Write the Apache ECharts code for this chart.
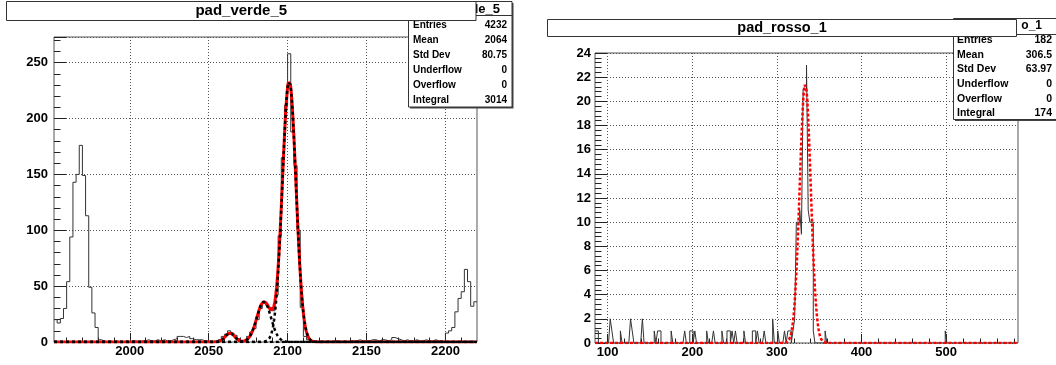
<!DOCTYPE html>
<html>
<head>
<meta charset="utf-8">
<script src="https://cdn.jsdelivr.net/npm/echarts@6/dist/echarts.min.js"></script>
<style>
  html, body { margin: 0; padding: 0; background: #fff; }
  #chart { width: 1056px; height: 365px; }
</style>
</head>
<body>
<div id="chart"></div>
<script>
// ---------- pad_verde_5 : histogram with 2-unit bins ----------
const verdeBinLo = 1952;
const verdeBinWidth = 2;
const verdeCounts = [
  20, 17, 21, 30, 54, 94, 143, 150, 176, 149,
  113, 49, 26, 13, 2, 1, 0, 1, 0, 1,
  0, 0, 1, 0, 1, 1, 0, 1, 1, 2,
  1, 1, 2, 1, 2, 1, 1, 2, 3, 5,
  5, 4, 5, 3, 2, 2, 2, 1, 1, 0,
  1, 0, 2, 5, 7, 10, 8, 6, 3, 1,
  2, 5, 9, 12, 20, 30, 35, 33, 31, 28,
  42, 95, 165, 212, 258, 188, 158, 100, 31, 5,
  2, 1, 0, 0, 1, 0, 1, 0, 1, 1,
  0, 1, 0, 1, 1, 1, 2, 1, 1, 1,
  2, 2, 1, 2, 2, 1, 2, 4, 3, 2,
  1, 2, 1, 1, 2, 1, 1, 2, 1, 1,
  2, 1, 1, 0, 8, 10, 13, 27, 39, 45,
  65, 54, 32, 36
];
// fitted gaussian components: [amplitude, mean, sigma]
const verdeFitPeaks = [
  [234, 2101, 4.3],
  [36, 2085, 4.5],
  [8, 2063.5, 3.0]
];
const verdeXRange = [1952, 2220];
const verdeYMax = 273;
const verdeXMajor = [2000, 2050, 2100, 2150, 2200];
const verdeXMinor = [1960, 1970, 1980, 1990, 2010, 2020, 2030, 2040, 2060, 2070, 2080, 2090,
                     2110, 2120, 2130, 2140, 2160, 2170, 2180, 2190, 2210];
const verdeStatsHeader = 'le_5';
const verdeStats = [
  ['Entries', '4232'], ['Mean', '2064'], ['Std Dev', '80.75'],
  ['Underflow', '0'], ['Overflow', '0'], ['Integral', '3014']
];

// ---------- pad_rosso_1 : histogram with 2-unit bins, non-empty bins listed ----------
const rossoBinLo = 85;
const rossoBinWidth = 2;
const rossoBinCount = 250;
const rossoFilledBins = [
  [85, 1], [87, 1], [103, 2], [105, 1], [115, 1], [127, 2], [129, 1], [141, 2],
  [155, 1], [159, 1], [161, 1], [175, 1], [191, 1], [197, 1], [199, 1], [203, 1],
  [217, 1], [225, 1], [235, 1], [241, 1], [243, 1], [247, 1], [251, 1], [261, 1],
  [271, 1], [273, 1], [277, 1], [285, 1], [295, 2], [301, 1], [309, 1], [313, 1],
  [315, 1], [319, 1], [321, 2], [323, 10], [325, 10], [327, 11], [329, 9],
  [331, 21], [333, 21], [335, 23], [337, 11], [339, 10], [341, 10], [343, 1],
  [357, 1], [499, 1]
];
const rossoFitPeaks = [[21.5, 333.5, 6.5]];
const rossoXRange = [85, 585];
const rossoYMax = 24;
const rossoXMajor = [100, 200, 300, 400, 500];
const rossoXMinor = [120, 140, 160, 180, 220, 240, 260, 280, 320, 340, 360, 380,
                     420, 440, 460, 480, 520, 540, 560, 580];
const rossoStatsHeader = 'o_1';
const rossoStats = [
  ['Entries', '182'], ['Mean', '306.5'], ['Std Dev', '63.97'],
  ['Underflow', '0'], ['Overflow', '0'], ['Integral', '174']
];

// ---------- helpers ----------
const FONT = '"Liberation Sans", Arial, Helvetica, sans-serif';

// bin edges + counts -> points for a step line (horizontal run over each bin)
function histSteps(lo, width, counts) {
  const pts = counts.map((c, i) => [lo + i * width, c]);
  pts.push([lo + counts.length * width, counts[counts.length - 1]]);
  return pts;
}
function expandBins(lo, width, n, filled) {
  const counts = new Array(n).fill(0);
  filled.forEach(([edge, c]) => { counts[Math.round((edge - lo) / width)] = c; });
  return counts;
}
// evaluate the fitted function (sum of gaussians) along the axis range
function fitCurve(peaks, range, step) {
  const pts = [];
  for (let x = range[0]; x <= range[1] + 1e-9; x += step) {
    let y = 0;
    peaks.forEach(([a, m, s]) => { y += a * Math.exp(-0.5 * ((x - m) / s) * ((x - m) / s)); });
    pts.push([x, y]);
  }
  return pts;
}

const labelStyle = { color: '#000', fontWeight: 'bold', fontSize: 13, fontFamily: FONT };
const gridDots = { show: true, lineStyle: { color: '#555', width: 1, type: [1, 2] } };
const tickStyle = { color: '#222', width: 1 };

function xMain(gi, range, major) {
  return {
    gridIndex: gi, type: 'value', min: range[0], max: range[1],
    axisLine: { show: false },
    axisTick: { show: true, inside: true, length: 9, customValues: major, lineStyle: tickStyle },
    axisLabel: Object.assign({ customValues: major, margin: 3, formatter: v => String(v) }, labelStyle),
    splitLine: gridDots
  };
}
function xMinor(gi, range, minor) {
  return {
    gridIndex: gi, type: 'value', min: range[0], max: range[1],
    axisLine: { show: false },
    axisTick: { show: true, inside: true, length: 4.5, customValues: minor, lineStyle: tickStyle },
    axisLabel: { show: false },
    splitLine: { show: false }
  };
}
function yMain(gi, max, interval, margin) {
  return {
    gridIndex: gi, type: 'value', min: 0, max: max, interval: interval,
    axisLine: { show: false },
    axisTick: { show: true, inside: true, length: 12, lineStyle: tickStyle },
    minorTick: { show: true, splitNumber: 5, length: 6.5, lineStyle: tickStyle },
    axisLabel: Object.assign({
      margin: margin,
      formatter: v => (Math.abs(v / interval - Math.round(v / interval)) < 1e-6 ? String(v) : '')
    }, labelStyle),
    splitLine: gridDots
  };
}

// ---------- pads: title box and statistics box ----------
function text(x, y, s, size, align, z) {
  return {
    type: 'text', x: x, y: y, z: z, silent: true,
    style: {
      text: s, font: 'bold ' + size + 'px ' + FONT, fill: '#000',
      align: align, textAlign: align, verticalAlign: 'middle', textVerticalAlign: 'middle'
    }
  };
}
function rect(x, y, w, h, z, fill, stroke) {
  return {
    type: 'rect', z: z, silent: true,
    shape: { x: x, y: y, width: w, height: h },
    style: { fill: fill, stroke: stroke || null, lineWidth: 1 }
  };
}
function statsBox(box, header, rows) {
  const els = [];
  els.push(rect(box.x + 1.5, box.y + 1.5, box.w, box.h, 100, '#444'));
  els.push(rect(box.x, box.y, box.w, box.h, 101, '#fff', '#333'));
  els.push({
    type: 'line', z: 102, silent: true,
    shape: { x1: box.x, y1: box.sepY, x2: box.x + box.w, y2: box.sepY },
    style: { stroke: '#333', lineWidth: 1 }
  });
  els.push(text(header.x, header.y, header.text, header.size, 'right', 103));
  rows.forEach((r, i) => {
    const y = box.row0 + i * box.rowStep;
    els.push(text(box.labelX, y, r[0], box.font, 'left', 103));
    els.push(text(box.valueX, y, r[1], box.font, 'right', 103));
  });
  return els;
}
function titleBox(x, y, w, h, title, size) {
  return [
    rect(x, y, w, h, 110, '#fff', '#333'),
    text(x + w / 2, y + h / 2, title, size, 'center', 111)
  ];
}

const graphicEls = [].concat(
  statsBox({ x: 408.5, y: 1.5, w: 103.5, h: 105.5, sepY: 15.5, labelX: 413, valueX: 507,
             row0: 25.5, rowStep: 15, font: 10 },
           { x: 500, y: 9.5, text: verdeStatsHeader, size: 13 }, verdeStats),
  titleBox(6.5, 1.5, 469.5, 19, 'pad_verde_5', 15),
  statsBox({ x: 953.5, y: 18.5, w: 110, h: 101, sepY: 34.5, labelX: 957, valueX: 1052,
             row0: 40, rowStep: 14.7, font: 10.5 },
           { x: 1042, y: 26, text: rossoStatsHeader, size: 12 }, rossoStats),
  titleBox(547.5, 19.5, 469, 17, 'pad_rosso_1', 14.5)
);

// ---------- series ----------
const rossoCounts = expandBins(rossoBinLo, rossoBinWidth, rossoBinCount, rossoFilledBins);

const series = [
  {
    name: 'verde', type: 'line', xAxisIndex: 0, yAxisIndex: 0, step: 'end',
    data: histSteps(verdeBinLo, verdeBinWidth, verdeCounts),
    symbol: 'none', silent: true, z: 2,
    lineStyle: { color: '#333', width: 1 }
  },
  {
    name: 'verde fit', type: 'line', xAxisIndex: 0, yAxisIndex: 0,
    data: fitCurve(verdeFitPeaks, verdeXRange, 0.25),
    symbol: 'none', silent: true, z: 3,
    lineStyle: { color: '#ff0000', width: 3 }
  }
].concat(verdeFitPeaks.map((p, i) => ({
    name: 'verde component ' + i, type: 'line', xAxisIndex: 0, yAxisIndex: 0,
    data: fitCurve([p], verdeXRange, 0.25),
    symbol: 'none', silent: true, z: 4,
    lineStyle: { color: '#000', width: 2.5, type: [3, 3] }
  }))).concat([
  {
    name: 'rosso', type: 'line', xAxisIndex: 1, yAxisIndex: 1, step: 'end',
    data: histSteps(rossoBinLo, rossoBinWidth, rossoCounts),
    symbol: 'none', silent: true, z: 2,
    lineStyle: { color: '#333', width: 1 }
  },
  {
    name: 'rosso fit', type: 'line', xAxisIndex: 1, yAxisIndex: 1,
    data: fitCurve(rossoFitPeaks, rossoXRange, 0.25),
    symbol: 'none', silent: true, z: 3,
    lineStyle: { color: '#ff0000', width: 2.5, type: [3, 2] }
  }
]);

const chart = echarts.init(document.getElementById('chart'), null, { renderer: 'canvas' });
chart.setOption({
  animation: false,
  backgroundColor: '#fff',
  textStyle: { fontFamily: FONT },
  grid: [
    { left: 54, top: 37, width: 423, height: 305, show: true, borderColor: '#555', borderWidth: 1, backgroundColor: 'transparent' },
    { left: 595, top: 53, width: 423, height: 290, show: true, borderColor: '#555', borderWidth: 1, backgroundColor: 'transparent' },
    { left: 54, top: 37, width: 423, height: 305, show: false },
    { left: 595, top: 53, width: 423, height: 290, show: false }
  ],
  xAxis: [
    xMain(0, verdeXRange, verdeXMajor),
    xMain(1, rossoXRange, rossoXMajor),
    xMinor(2, verdeXRange, verdeXMinor),
    xMinor(3, rossoXRange, rossoXMinor)
  ],
  yAxis: [
    yMain(0, verdeYMax, 50, 6),
    yMain(1, rossoYMax, 2, 4),
    { gridIndex: 2, type: 'value', min: 0, max: 1, show: false },
    { gridIndex: 3, type: 'value', min: 0, max: 1, show: false }
  ],
  series: series,
  graphic: { elements: graphicEls }
});
</script>
</body>
</html>
